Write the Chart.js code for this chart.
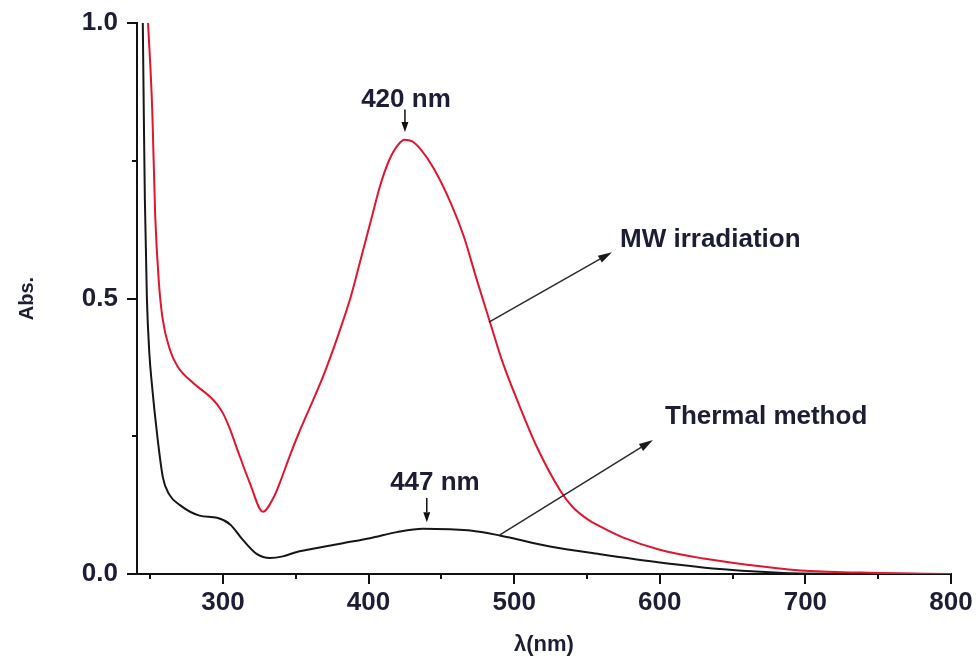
<!DOCTYPE html>
<html>
<head>
<meta charset="utf-8">
<title>UV-Vis absorption spectra</title>
<script src="https://cdn.jsdelivr.net/npm/chart.js@4.4.1/dist/chart.umd.min.js"></script>
<style>
    html, body { margin: 0; padding: 0; background: #fff; }
    canvas { display: block; }
</style>
</head>
<body>
<canvas id="spectrumChart" width="979" height="663"></canvas>
<script>
// Spectrum data (wavelength in nm, absorbance)
const mwWavelength = [248.4, 251.5, 253.5, 256, 258.5, 263.6, 269, 279.4, 291, 296, 300, 305, 309.6, 318.5, 327.5,
    335, 339, 346, 352, 357.7, 369, 380, 388, 395, 402, 408, 414, 420, 425, 430, 436, 445, 456.5, 465.5, 474, 484, 492,
    504, 515.7, 531.5, 540, 550, 560, 575, 600, 630, 660, 700, 750, 800];
const mwAbs = [1.01, 0.84, 0.65, 0.53, 0.465, 0.407, 0.376, 0.347, 0.322, 0.308, 0.292, 0.262, 0.228, 0.165, 0.113,
    0.14, 0.165, 0.215, 0.255, 0.29, 0.36, 0.44, 0.505, 0.575, 0.645, 0.705, 0.75, 0.778, 0.788, 0.785, 0.77, 0.735, 0.673, 0.612, 0.537, 0.452, 0.385,
    0.303, 0.23, 0.152, 0.122, 0.1, 0.085, 0.066, 0.044, 0.028, 0.017, 0.006, 0.002, 0.0];

const thermalWavelength = [244.9, 245.7, 246.4, 247.8, 249.5, 251.2, 254.7, 258.8, 263, 270.5, 284, 296, 305,
    313.7, 323.4, 332.3, 341.2, 350.8, 364.6, 382.4, 401, 419.5, 437.4, 456, 470, 490, 524.6, 559, 600,
    646, 685, 740, 800];
const thermalAbs = [1.02, 0.83, 0.68, 0.5, 0.4, 0.345, 0.256, 0.175, 0.145, 0.125, 0.106, 0.102, 0.09,
    0.062, 0.036, 0.029, 0.032, 0.04, 0.047, 0.056, 0.065, 0.076, 0.082, 0.081, 0.079, 0.07, 0.05, 0.036, 0.021,
    0.008, 0.002, 0.0005, 0.0];

// Axis ticks (every tick gets a mark, only some get a label)
const xTicks = [250, 300, 350, 400, 450, 500, 550, 600, 650, 700, 750, 800];
const xTickLabels = [300, 400, 500, 600, 700, 800];
const yTicks = [0, 0.25, 0.5, 0.75, 1.0];
const yTickLabels = [0, 0.5, 1.0];

// Annotations, in data units
const peakNotes = [
    { text: '420 nm', x: 425.7, y: 0.86, arrowX: 425, arrowFrom: 0.843, arrowTo: 0.802 },
    { text: '447 nm', x: 445.6, y: 0.165, arrowX: 440, arrowFrom: 0.138, arrowTo: 0.094 }
];
const seriesNotes = [
    { text: 'MW irradiation', x: 572.7, y: 0.606, from: [482.7, 0.457], to: [567.2, 0.584] },
    { text: 'Thermal method', x: 603.6, y: 0.285, from: [490.2, 0.071], to: [595.3, 0.243] }
];

const textColor = '#1d1d35';
const fontFamily = '"Liberation Sans", Arial, sans-serif';

function toPoints(xs, ys) {
    return xs.map((x, i) => ({ x: x, y: ys[i] }));
}

// draws a line with a filled arrow head at the end
function drawArrow(ctx, x1, y1, x2, y2, headLen, headWidth, lineWidth) {
    const angle = Math.atan2(y2 - y1, x2 - x1);
    const bx = x2 - headLen * Math.cos(angle);
    const by = y2 - headLen * Math.sin(angle);
    ctx.lineWidth = lineWidth;
    ctx.beginPath();
    ctx.moveTo(x1, y1);
    ctx.lineTo(bx, by);
    ctx.stroke();
    ctx.beginPath();
    ctx.moveTo(x2, y2);
    ctx.lineTo(bx + headWidth / 2 * Math.sin(angle), by - headWidth / 2 * Math.cos(angle));
    ctx.lineTo(bx - headWidth / 2 * Math.sin(angle), by + headWidth / 2 * Math.cos(angle));
    ctx.closePath();
    ctx.fill();
}

// Outward tick marks, long on labelled ticks and short on the others
const tickMarks = {
    id: 'tickMarks',
    afterDraw(chart) {
        const { ctx, scales: { x, y } } = chart;
        ctx.save();
        ctx.strokeStyle = '#111';
        ctx.lineWidth = 2;
        ctx.beginPath();
        xTicks.forEach(v => {
            const px = Math.round(x.getPixelForValue(v));
            const len = xTickLabels.includes(v) ? 10 : 5;
            ctx.moveTo(px, x.top);
            ctx.lineTo(px, x.top + len);
        });
        yTicks.forEach(v => {
            const py = Math.round(y.getPixelForValue(v));
            const len = yTickLabels.includes(v) ? 10 : 5;
            ctx.moveTo(y.right, py);
            ctx.lineTo(y.right - len, py);
        });
        ctx.stroke();
        ctx.restore();
    }
};

// Peak labels and series labels with their arrows
const notes = {
    id: 'notes',
    afterDatasetsDraw(chart) {
        const { ctx, scales: { x, y } } = chart;
        ctx.save();
        ctx.fillStyle = textColor;
        ctx.font = 'bold 26px ' + fontFamily;
        ctx.textBaseline = 'middle';

        peakNotes.forEach(n => {
            ctx.textAlign = 'center';
            ctx.fillStyle = textColor;
            ctx.fillText(n.text, x.getPixelForValue(n.x), y.getPixelForValue(n.y));
            ctx.strokeStyle = '#111';
            ctx.fillStyle = '#111';
            const ax = x.getPixelForValue(n.arrowX);
            drawArrow(ctx, ax, y.getPixelForValue(n.arrowFrom), ax, y.getPixelForValue(n.arrowTo), 10, 7, 1.5);
        });

        seriesNotes.forEach(n => {
            ctx.textAlign = 'left';
            ctx.fillStyle = textColor;
            ctx.fillText(n.text, x.getPixelForValue(n.x), y.getPixelForValue(n.y));
            ctx.strokeStyle = '#2a2a2a';
            ctx.fillStyle = '#1a1a1a';
            drawArrow(ctx,
                x.getPixelForValue(n.from[0]), y.getPixelForValue(n.from[1]),
                x.getPixelForValue(n.to[0]), y.getPixelForValue(n.to[1]),
                14, 8, 1.5);
        });
        ctx.restore();
    }
};

function initializeChart() {
    Chart.defaults.font.family = fontFamily;
    Chart.defaults.color = textColor;

    new Chart(document.getElementById('spectrumChart'), {
        type: 'line',
        data: {
            datasets: [
                {
                    label: 'MW irradiation',
                    data: toPoints(mwWavelength, mwAbs),
                    borderColor: '#e3142d',
                    borderWidth: 2,
                    pointRadius: 0,
                    cubicInterpolationMode: 'monotone'
                },
                {
                    label: 'Thermal method',
                    data: toPoints(thermalWavelength, thermalAbs),
                    borderColor: '#161616',
                    borderWidth: 2,
                    pointRadius: 0,
                    cubicInterpolationMode: 'monotone'
                }
            ]
        },
        options: {
            responsive: false,
            animation: false,
            layout: { padding: { top: 23, right: 28, left: 0, bottom: 0 } },
            plugins: {
                legend: { display: false },
                tooltip: { enabled: false }
            },
            scales: {
                x: {
                    type: 'linear',
                    min: 241,
                    max: 800,
                    afterBuildTicks: scale => { scale.ticks = xTicks.map(v => ({ value: v })); },
                    afterFit: scale => {
                        scale.height = 89;
                        scale.paddingLeft = 0;
                        scale.paddingRight = 0;
                    },
                    grid: { display: false, drawTicks: false },
                    border: { display: true, color: '#111', width: 2 },
                    ticks: {
                        autoSkip: false,
                        maxRotation: 0,
                        padding: 13,
                        font: { size: 26, weight: 'bold' },
                        callback: v => xTickLabels.includes(v) ? String(v) : ''
                    },
                    title: {
                        display: true,
                        text: 'λ(nm)',
                        font: { size: 22, weight: 'bold' },
                        padding: { top: 0, bottom: 5 }
                    }
                },
                y: {
                    min: 0,
                    max: 1,
                    afterBuildTicks: scale => { scale.ticks = yTicks.map(v => ({ value: v })); },
                    afterFit: scale => {
                        scale.width = 137;
                        scale.paddingTop = 0;
                        scale.paddingBottom = 0;
                    },
                    grid: { display: false, drawTicks: false },
                    border: { display: true, color: '#111', width: 2 },
                    ticks: {
                        padding: 19,
                        font: { size: 26, weight: 'bold' },
                        callback: v => yTickLabels.includes(v) ? v.toFixed(1) : ''
                    },
                    title: {
                        display: true,
                        text: 'Abs.',
                        font: { size: 20, weight: 'bold' },
                        padding: { top: 15, bottom: 0 }
                    }
                }
            }
        },
        plugins: [tickMarks, notes]
    });
}

document.addEventListener('DOMContentLoaded', initializeChart);
</script>
</body>
</html>
